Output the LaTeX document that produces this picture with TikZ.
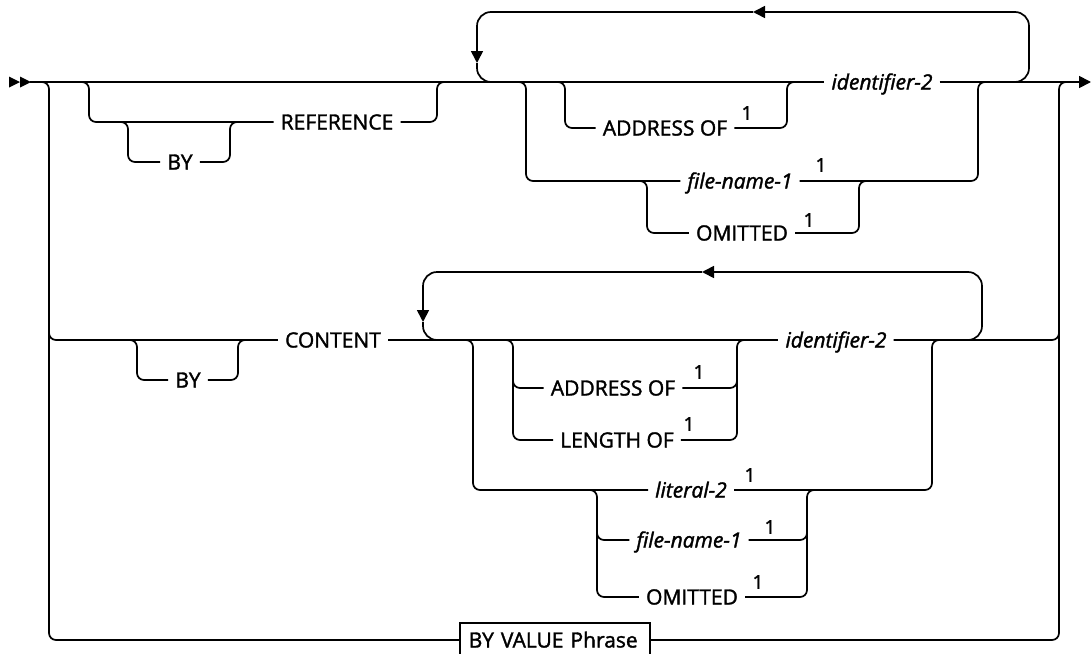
\documentclass[tikz,border=0pt]{standalone}
\usepackage{fontspec}
\setmainfont{Open Sans}[FakeBold=1.6]
\usetikzlibrary{arrows.meta}

\begin{document}
\begin{tikzpicture}[x=1pt,y=-1pt,
	rail/.style={line width=1.7pt, rounded corners=7pt},
	ring/.style={line width=1.7pt, rounded corners=14pt},
	arr/.style={-{Triangle[length=12pt,width=12pt]}},
	kw/.style={inner xsep=7pt, inner ysep=0pt, text height=15pt, text depth=0pt, font=\fontsize{21}{25}\selectfont},
	var/.style={kw, font=\fontsize{21}{25}\selectfont\itshape},
	sup/.style={inner sep=0pt, font=\fontsize{19}{20}\selectfont}]
	\clip (0,0) rectangle (1091,653);
	% keywords and variables
	\node[kw] (ref) at (337,122) {REFERENCE};
	\node[kw] (by1) at (180,162) {BY};
	\node[var] (id1) at (882,82) {identifier-2};
	\node[kw] (ao1) at (665,128) {ADDRESS OF};
	\node[var] (fn1) at (740,181) {file-name-1};
	\node[kw] (om1) at (742,233) {OMITTED};
	\node[kw] (cont) at (333,340) {CONTENT};
	\node[kw] (by2) at (188,380) {BY};
	\node[var] (id2) at (836,340) {identifier-2};
	\node[kw] (ao2) at (613,388) {ADDRESS OF};
	\node[kw] (lo2) at (617,440) {LENGTH OF};
	\node[var] (lit) at (691,490) {literal-2};
	\node[var] (fn2) at (689,540) {file-name-1};
	\node[kw] (om2) at (692,597) {OMITTED};
	\node[kw, draw, line width=1.5pt, anchor=west, inner xsep=9pt, minimum height=34pt, text width=172pt, align=left] (byval) at (459,640) {BY VALUE Phrase};
	% footnote marks
	\node[sup] (n1) at (747,113) {1};
	\node[sup] (n2) at (821,165) {1};
	\node[sup] (n3) at (809,220) {1};
	\node[sup] (n4) at (699,372) {1};
	\node[sup] (n5) at (689,424) {1};
	\node[sup] (n6) at (750,475) {1};
	\node[sup] (n7) at (770,527) {1};
	\node[sup] (n8) at (758,582) {1};
	% main line
	\fill (9,76.5) -- (20,82) -- (9,87.5) -- cycle;
	\fill (20,76.5) -- (31,82) -- (20,87.5) -- cycle;
	\draw[rail] (30,82) -- (id1.west);
	\draw[rail,arr] (id1.east) -- (1091,82);
	\draw[rail] (39,82) -- (49,82) -- (49,640) -- (byval.west);
	\draw[rail] (byval.east) -- (1059,640) -- (1059,82) -- (1070,82);
	\draw[rail] (49,330) -- (49,340) -- (cont.west);
	\draw[rail] (cont.east) -- (id2.west);
	\draw[rail] (id2.east) -- (1059,340) -- (1059,330);
	% BY REFERENCE
	\draw[rail] (80,82) -- (89,82) -- (89,122) -- (ref.west);
	\draw[rail] (ref.east) -- (437,122) -- (437,82) -- (446,82);
	\draw[rail] (119,122) -- (128,122) -- (128,162) -- (by1.west);
	\draw[rail] (by1.east) -- (230,162) -- (230,122) -- (239,122);
	% repeat, upper
	\draw[ring,arr] (1013,82) -- (1029,82) -- (1029,12) -- (753,12);
	\draw[ring,arr] (753,12) -- (477,12) -- (477,63);
	\draw[ring] (477,63) -- (477,82) -- (493,82);
	\draw[rail] (557,82) -- (565,82) -- (565,128) -- (ao1.west);
	\draw[rail] (ao1.east) -- (787,128) -- (787,82) -- (795,82);
	\draw[rail] (518,82) -- (526,82) -- (526,181) -- (fn1.west);
	\draw[rail] (fn1.east) -- (978,181) -- (978,82) -- (986,82);
	\draw[rail] (639,181) -- (647,181) -- (647,233) -- (om1.west);
	\draw[rail] (om1.east) -- (859,233) -- (859,181) -- (867,181);
	% BY CONTENT
	\draw[rail] (129,340) -- (137,340) -- (137,380) -- (by2.west);
	\draw[rail] (by2.east) -- (238,380) -- (238,340) -- (247,340);
	% repeat, lower
	\draw[ring,arr] (967,340) -- (982,340) -- (982,272) -- (702,272);
	\draw[ring,arr] (702,272) -- (423,272) -- (423,322);
	\draw[ring] (423,322) -- (423,340) -- (439,340);
	\draw[rail] (465,340) -- (473,340) -- (473,490) -- (lit.west);
	\draw[rail] (lit.east) -- (932,490) -- (932,340) -- (940,340);
	\draw[rail] (505,340) -- (513,340) -- (513,440) -- (lo2.west);
	\draw[rail] (513,380) -- (513,388) -- (ao2.west);
	\draw[rail] (ao2.east) -- (737,388) -- (737,380);
	\draw[rail] (lo2.east) -- (737,440) -- (737,340) -- (745,340);
	\draw[rail] (589,490) -- (597,490) -- (597,597) -- (om2.west);
	\draw[rail] (597,532) -- (597,540) -- (fn2.west);
	\draw[rail] (fn2.east) -- (807,540) -- (807,532);
	\draw[rail] (om2.east) -- (807,597) -- (807,490) -- (815,490);
\end{tikzpicture}
\end{document}
